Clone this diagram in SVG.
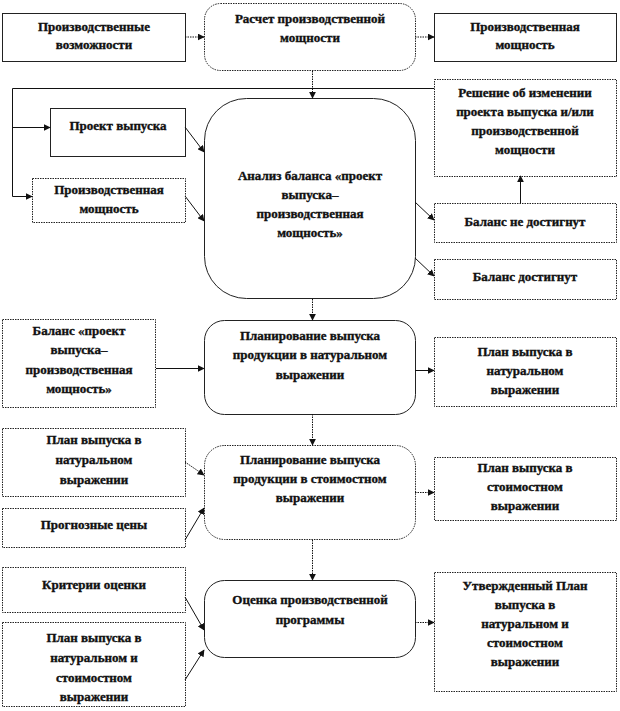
<svg xmlns="http://www.w3.org/2000/svg" width="620" height="711" viewBox="0 0 620 711">
<style>
.b{fill:#fff;stroke:#222;stroke-width:1}
.d{fill:#fff;stroke:#222;stroke-width:1;stroke-dasharray:1.5,1}
.t{font-family:"Liberation Serif","Times New Roman",serif;font-weight:bold;font-size:13px;fill:#111;text-anchor:middle;stroke:#111;stroke-width:0.35}
.c{fill:none;stroke:#111;stroke-width:1}
.cd{fill:none;stroke:#111;stroke-width:1;stroke-dasharray:1.5,1}
</style>
<defs>
<marker id="a" viewBox="0 0 10 10" refX="9" refY="5" markerWidth="7" markerHeight="7" orient="auto" markerUnits="userSpaceOnUse"><path d="M0,0 L10,5 L0,10 z" fill="#111"/></marker>
</defs>
<rect width="620" height="711" fill="#fff"/>
<g id="n1"><rect class="b" x="2.5" y="13.5" width="183" height="48"/><text class="t" x="94" y="31">Производственные</text><text class="t" x="94" y="49">возможности</text></g>
<g id="n2"><rect class="d" x="204.5" y="3.5" width="211" height="67" rx="16"/><text class="t" x="310" y="23">Расчет производственной</text><text class="t" x="310" y="42">мощности</text></g>
<g id="n3"><rect class="b" x="434.5" y="13.5" width="182" height="48"/><text class="t" x="525" y="31">Производственная</text><text class="t" x="525" y="49">мощность</text></g>
<g id="n4"><rect class="d" x="434.5" y="79.5" width="182" height="97"/><text class="t" x="525" y="97">Решение об изменении</text><text class="t" x="525" y="116">проекта выпуска и/или</text><text class="t" x="525" y="135">производственной</text><text class="t" x="525" y="154">мощности</text></g>
<g id="n5"><rect class="b" x="50.5" y="108.5" width="135" height="48"/><text class="t" x="118" y="130">Проект выпуска</text></g>
<g id="n6"><rect class="d" x="32.5" y="178.5" width="153" height="44"/><text class="t" x="109" y="194">Производственная</text><text class="t" x="109" y="213">мощность</text></g>
<g id="n7"><rect class="b" x="204.5" y="98.5" width="211" height="200" rx="42"/><text class="t" x="310" y="180">Анализ баланса «проект</text><text class="t" x="310" y="199">выпуска–</text><text class="t" x="310" y="218">производственная</text><text class="t" x="310" y="237">мощность»</text></g>
<g id="n8"><rect class="d" x="434.5" y="203.5" width="182" height="39"/><text class="t" x="525" y="226">Баланс не достигнут</text></g>
<g id="n9"><rect class="d" x="434.5" y="259.5" width="182" height="40"/><text class="t" x="525" y="281">Баланс достигнут</text></g>
<g id="n10"><rect class="d" x="2.5" y="319.5" width="153" height="88"/><text class="t" x="79" y="335">Баланс «проект</text><text class="t" x="79" y="354">выпуска–</text><text class="t" x="79" y="374">производственная</text><text class="t" x="79" y="393">мощность»</text></g>
<g id="n11"><rect class="b" x="204.5" y="320.5" width="211" height="94" rx="20"/><text class="t" x="310" y="340">Планирование выпуска</text><text class="t" x="310" y="359">продукции в натуральном</text><text class="t" x="310" y="379">выражении</text></g>
<g id="n12"><rect class="d" x="434.5" y="337.5" width="182" height="69"/><text class="t" x="525" y="356">План выпуска в</text><text class="t" x="525" y="375">натуральном</text><text class="t" x="525" y="394">выражении</text></g>
<g id="n13"><rect class="d" x="2.5" y="428.5" width="183" height="68"/><text class="t" x="94" y="444">План выпуска в</text><text class="t" x="94" y="464">натуральном</text><text class="t" x="94" y="484">выражении</text></g>
<g id="n14"><rect class="d" x="2.5" y="508.5" width="183" height="39"/><text class="t" x="94" y="529">Прогнозные цены</text></g>
<g id="n15"><rect class="d" x="204.5" y="445.5" width="211" height="94" rx="20"/><text class="t" x="310" y="464">Планирование выпуска</text><text class="t" x="310" y="483">продукции в стоимостном</text><text class="t" x="310" y="502">выражении</text></g>
<g id="n16"><rect class="d" x="434.5" y="457.5" width="182" height="63"/><text class="t" x="525" y="472">План выпуска в</text><text class="t" x="525" y="491">стоимостном</text><text class="t" x="525" y="510">выражении</text></g>
<g id="n17"><rect class="d" x="2.5" y="567.5" width="183" height="45"/><text class="t" x="94" y="589">Критерии оценки</text></g>
<g id="n18"><rect class="d" x="2.5" y="622.5" width="183" height="84"/><text class="t" x="94" y="642">План выпуска в</text><text class="t" x="94" y="662">натуральном и</text><text class="t" x="94" y="682">стоимостном</text><text class="t" x="94" y="701">выражении</text></g>
<g id="n19"><rect class="b" x="204.5" y="580.5" width="211" height="77" rx="20"/><text class="t" x="310" y="604">Оценка производственной</text><text class="t" x="310" y="624">программы</text></g>
<g id="n20"><rect class="d" x="434.5" y="572.5" width="182" height="119"/><text class="t" x="525" y="590">Утвержденный План</text><text class="t" x="525" y="609">выпуска в</text><text class="t" x="525" y="628">натуральном и</text><text class="t" x="525" y="647">стоимостном</text><text class="t" x="525" y="666">выражении</text></g>
<g id="connectors">
<path class="cd" d="M185,37 H204" marker-end="url(#a)"/>
<path class="cd" d="M415,37 H434" marker-end="url(#a)"/>
<path class="cd" d="M312.5,71 V98" marker-end="url(#a)"/>
<path class="c" d="M434,88.5 H12.5 V196.5 H32" marker-end="url(#a)"/>
<path class="c" d="M12.5,127.5 H50" marker-end="url(#a)"/>
<path class="c" d="M185,127 L204,152" marker-end="url(#a)"/>
<path class="c" d="M185,196 L204,221" marker-end="url(#a)"/>
<path class="c" d="M415,202 L434,220" marker-end="url(#a)"/>
<path class="c" d="M415,258 L434,276" marker-end="url(#a)"/>
<path class="c" d="M520.5,203 V176" marker-end="url(#a)"/>
<path class="cd" d="M312.5,299 V320" marker-end="url(#a)"/>
<path class="c" d="M156,368.5 H204" marker-end="url(#a)"/>
<path class="c" d="M415,370.5 H434" marker-end="url(#a)"/>
<path class="cd" d="M312.5,414 V445" marker-end="url(#a)"/>
<path class="cd" d="M185,462 L204,475" marker-end="url(#a)"/>
<path class="c" d="M185,540 L204,508" marker-end="url(#a)"/>
<path class="cd" d="M415,492.5 H434" marker-end="url(#a)"/>
<path class="cd" d="M312.5,540 V580" marker-end="url(#a)"/>
<path class="c" d="M185,597 L204,630" marker-end="url(#a)"/>
<path class="c" d="M185,680 L204,650" marker-end="url(#a)"/>
<path class="cd" d="M415,622.5 H434" marker-end="url(#a)"/>
</g>
</svg>
